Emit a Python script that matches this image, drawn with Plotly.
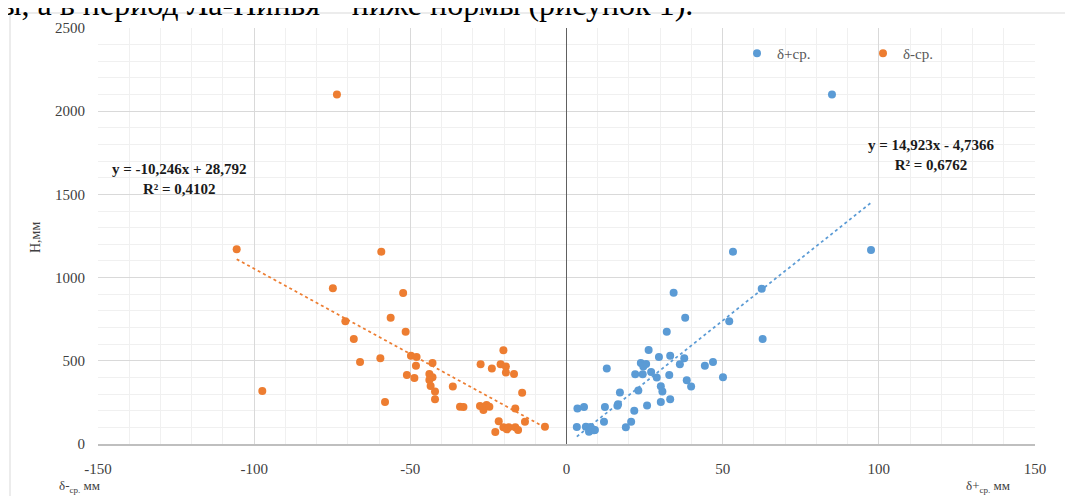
import plotly.graph_objects as go

# ---- data ----
neg_x = [-105.6, -73.5, -59.3, -74.8, -52.3, -70.8, -56.3, -51.5, -68.1, -49.8,
         -48.0, -59.6, -66.1, -48.2, -51.1, -48.7, -97.4, -58.1, -42.9, -43.9,
         -42.9, -43.9, -43.5, -42.1, -42.1, -36.4, -34.1, -33.0, -27.5, -23.9,
         -20.2, -21.1, -19.4, -19.4, -16.8, -14.2, -27.7, -26.6, -25.6, -24.7,
         -16.4, -21.7, -13.3, -6.9, -20.2, -19.1, -18.5, -16.4, -15.5, -22.8]
neg_y = [1170, 2100, 1156, 936, 907, 737, 759, 675, 631, 531,
         523, 515, 493, 471, 415, 397, 318, 252, 487, 421,
         401, 385, 349, 315, 269, 345, 224, 222, 479, 453,
         563, 479, 465, 429, 421, 308, 228, 204, 234, 224,
         214, 136, 134, 104, 100, 88, 100, 100, 84, 72]

pos_x = [53.3, 97.5, 85.0, 62.5, 34.3, 38.0, 52.1, 32.1, 62.8, 26.3,
         29.6, 33.2, 37.7, 23.8, 25.5, 24.6, 36.3, 46.9, 44.3, 12.9,
         22.0, 24.4, 27.1, 32.9, 28.9, 50.1, 38.5, 39.9, 30.2, 30.7,
         23.0, 17.1, 33.2, 30.2, 25.8, 16.3, 16.5, 12.3, 3.5, 5.6,
         21.7, 12.0, 20.7, 19.0, 3.3, 6.2, 7.2, 8.3, 8.8, 7.7, 9.1]
pos_y = [1156, 1166, 2100, 933, 909, 759, 737, 675, 631, 565,
         523, 531, 515, 487, 481, 465, 479, 493, 471, 453,
         419, 419, 433, 415, 399, 401, 383, 345, 347, 315,
         321, 309, 269, 252, 232, 230, 239, 222, 214, 222,
         200, 134, 134, 100, 102, 104, 74, 88, 82, 102, 84]

# trend line coefficients (as printed on the chart)
neg_slope, neg_intercept = -10.246, 28.792
pos_slope, pos_intercept = 14.923, -4.7366
neg_eq = "y = -10,246x + 28,792<br>R² = 0,4102"
pos_eq = "y = 14,923x - 4,7366<br>R² = 0,6762"

x_ticks = [-150, -100, -50, 0, 50, 100, 150]
y_ticks = [0, 500, 1000, 1500, 2000, 2500]

BLUE = "#5B9BD5"
ORANGE = "#ED7D31"
SERIF = "Liberation Serif, Times New Roman, serif"

fig = go.Figure()

fig.add_trace(go.Scatter(x=pos_x, y=pos_y, mode="markers", name="δ+ср.",
                         marker=dict(color=BLUE, size=8)))
fig.add_trace(go.Scatter(x=neg_x, y=neg_y, mode="markers", name="δ-ср.",
                         marker=dict(color=ORANGE, size=8)))

nx = [min(neg_x), max(neg_x)]
fig.add_trace(go.Scatter(x=nx, y=[neg_slope * v + neg_intercept for v in nx],
                         mode="lines", showlegend=False, hoverinfo="skip",
                         line=dict(color=ORANGE, width=1.75, dash="dot")))
px = [min(pos_x), max(pos_x)]
fig.add_trace(go.Scatter(x=px, y=[pos_slope * v + pos_intercept for v in px],
                         mode="lines", showlegend=False, hoverinfo="skip",
                         line=dict(color=BLUE, width=1.75, dash="dot")))

# page body adds an 8px offset; layout expressed in figure pixels
OFF = 8
W, H = 1065, 488
L, T = 90, 20
pw, ph = 937, 416
R, B = W - L - pw, H - T - ph


def sx(p):
    """screen x pixel -> paper x"""
    return (p - OFF - L) / pw


def sy(p):
    """screen y pixel -> paper y"""
    return 1 - (p - OFF - T) / ph


fig.update_layout(
    width=W, height=H,
    margin=dict(l=L, r=R, t=T, b=B, autoexpand=False),
    paper_bgcolor="white", plot_bgcolor="white",
    font=dict(family=SERIF, size=15, color="#404040"),
    showlegend=True,
    legend=dict(orientation="h", x=sx(737), y=sy(37),
                xanchor="left", yanchor="top",
                entrywidth=81, entrywidthmode="pixels",
                font=dict(family=SERIF, size=15, color="#595959"),
                bgcolor="rgba(0,0,0,0)"),
)

fig.update_xaxes(
    range=[-150, 150], tickvals=x_ticks, ticktext=[str(v) for v in x_ticks],
    showgrid=True, gridcolor="#d9d9d9", gridwidth=1,
    minor=dict(dtick=10, showgrid=True, gridcolor="#f0f0f0", gridwidth=1),
    zeroline=True, zerolinecolor="#606060", zerolinewidth=1,
    showline=True, linecolor="#bfbfbf", linewidth=2,
    ticks="", ticklabelstandoff=10, automargin=False,
    tickfont=dict(family=SERIF, size=15, color="#404040"),
)
fig.update_yaxes(
    range=[0, 2500], tickvals=y_ticks, ticktext=[str(v) for v in y_ticks],
    showgrid=True, gridcolor="#d9d9d9", gridwidth=1,
    minor=dict(dtick=100, showgrid=True, gridcolor="#f0f0f0", gridwidth=1),
    zeroline=False, showline=False,
    ticks="", ticklabelstandoff=12, automargin=False,
    tickfont=dict(family=SERIF, size=15, color="#404040"),
)

annotations = [
    dict(x=-123.8, y=1590, xref="x", yref="y", text="<b>" + neg_eq + "</b>",
         showarrow=False, font=dict(family=SERIF, size=15, color="#1a1a1a"),
         align="center", xanchor="center", yanchor="middle"),
    dict(x=117.0, y=1737, xref="x", yref="y", text="<b>" + pos_eq + "</b>",
         showarrow=False, font=dict(family=SERIF, size=15, color="#1a1a1a"),
         align="center", xanchor="center", yanchor="middle"),
    dict(x=sx(35), y=sy(238), xref="paper", yref="paper",
         text="H,мм", textangle=-90, showarrow=False,
         font=dict(family=SERIF, size=14, color="#404040"),
         xanchor="center", yanchor="middle"),
    dict(x=sx(57), y=sy(486), xref="paper", yref="paper",
         text="δ-<sub>ср.</sub> мм", showarrow=False,
         font=dict(family=SERIF, size=13, color="#404040"),
         xanchor="left", yanchor="middle"),
    dict(x=sx(964), y=sy(486), xref="paper", yref="paper",
         text="δ+<sub>ср.</sub> мм", showarrow=False,
         font=dict(family=SERIF, size=13, color="#404040"),
         xanchor="left", yanchor="middle"),
    dict(x=sx(-2), y=sy(24), xref="paper", yref="paper",
         text="ы, а в период Ла-Нинья – ниже нормы (рисунок 1).",
         showarrow=False, font=dict(family=SERIF, size=32, color="black"),
         xanchor="left", yanchor="bottom"),
]
fig.update_layout(annotations=annotations)

# outer chart-area frame
fig.add_shape(type="rect", xref="paper", yref="paper",
              x0=sx(10), x1=sx(1100),
              y0=sy(520), y1=sy(13),
              line=dict(color="#d9d9d9", width=1), fillcolor="rgba(0,0,0,0)",
              layer="below")

fig.write_html("out.html")
